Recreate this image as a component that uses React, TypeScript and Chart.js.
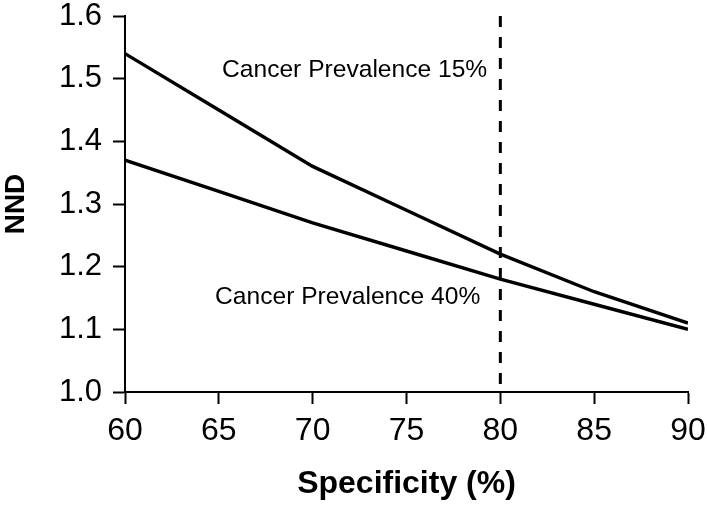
import React, { useEffect, useRef } from "react";
import { Chart, registerables } from "chart.js";

Chart.register(...registerables);

const specificity = [60, 65, 70, 75, 80, 85, 90];
const prevalence15 = [1.54, 1.45, 1.36, 1.29, 1.22, 1.16, 1.11];
const prevalence40 = [1.37, 1.32, 1.27, 1.225, 1.18, 1.14, 1.1];
const cutoffSpecificity = 80;
const yMin = 1.0;
const yMax = 1.6;
const xMin = 60;
const xMax = 90;
const annotationTexts = ["Cancer Prevalence 15%", "Cancer Prevalence 40%"];
const annotationX = [65.17, 64.8];
const annotationY = [1.514, 1.151];

const FONT = "'Liberation Sans', Arial, Helvetica, sans-serif";

const textPlugin = {
  id: "textLabels",
  afterDatasetsDraw(chart: any) {
    const { ctx, scales } = chart;
    ctx.save();
    ctx.fillStyle = "#000";
    ctx.font = `24.6px ${FONT}`;
    ctx.textAlign = "left";
    ctx.textBaseline = "middle";
    annotationTexts.forEach((t, i) => {
      ctx.fillText(t, scales.x.getPixelForValue(annotationX[i]), scales.y.getPixelForValue(annotationY[i]));
    });
    ctx.restore();
  },
};

export default function App() {
  const ref = useRef<HTMLCanvasElement | null>(null);
  useEffect(() => {
    if (!ref.current) return;
    const chart = new Chart(ref.current, {
      type: "line",
      data: {
        datasets: [
          {
            label: "Cancer Prevalence 15%",
            data: specificity.map((x, i) => ({ x, y: prevalence15[i] })),
            borderColor: "#000",
            borderWidth: 3.4,
            pointRadius: 0,
            tension: 0,
            fill: false,
          },
          {
            label: "Cancer Prevalence 40%",
            data: specificity.map((x, i) => ({ x, y: prevalence40[i] })),
            borderColor: "#000",
            borderWidth: 3.4,
            pointRadius: 0,
            tension: 0,
            fill: false,
          },
          {
            label: "cutoff",
            data: [
              { x: cutoffSpecificity, y: yMax },
              { x: cutoffSpecificity, y: yMin },
            ],
            borderColor: "#000",
            borderWidth: 3,
            borderDash: [11, 10],
            pointRadius: 0,
            fill: false,
          },
        ],
      },
      options: {
        responsive: false,
        animation: false,
        layout: { padding: { top: 16, right: 19, left: 0, bottom: 0 } },
        plugins: { legend: { display: false }, tooltip: { enabled: false } },
        scales: {
          x: {
            type: "linear",
            min: xMin,
            max: xMax,
            afterFit: (s: any) => {
              s.height = 114;
              s.paddingLeft = 0;
              s.paddingRight = 0;
            },
            ticks: {
              stepSize: 5,
              color: "#000",
              padding: 8,
              font: { family: FONT, size: 32 },
            },
            grid: {
              drawOnChartArea: false,
              drawTicks: true,
              tickLength: 12,
              tickColor: "#000",
              tickWidth: 2,
            },
            border: { display: true, color: "#000", width: 2 },
            title: {
              display: true,
              text: "Specificity (%)",
              color: "#000",
              font: { family: FONT, size: 32, weight: "bold", lineHeight: 1 },
              padding: { top: 0, bottom: 6 },
            },
          },
          y: {
            type: "linear",
            min: yMin,
            max: yMax,
            afterFit: (s: any) => {
              s.width = 125;
              s.paddingTop = 0;
              s.paddingBottom = 0;
            },
            ticks: {
              stepSize: 0.1,
              color: "#000",
              padding: 11,
              font: { family: FONT, size: 31 },
              callback: (v: any) => Number(v).toFixed(1),
            },
            grid: {
              drawOnChartArea: false,
              drawTicks: true,
              tickLength: 12,
              tickColor: "#000",
              tickWidth: 2,
            },
            border: { display: true, color: "#000", width: 2 },
            title: {
              display: true,
              text: "NND",
              color: "#000",
              font: { family: FONT, size: 28, weight: "bold", lineHeight: 1 },
              padding: { top: 2, bottom: 0 },
            },
          },
        },
      },
      plugins: [textPlugin],
    });
    return () => chart.destroy();
  }, []);
  return (
    <div style={{ position: "absolute", left: 0, top: 0, width: 707, height: 506, background: "#fff" }}>
      <canvas ref={ref} width={707} height={506} style={{ width: 707, height: 506, display: "block" }} />
    </div>
  );
}
